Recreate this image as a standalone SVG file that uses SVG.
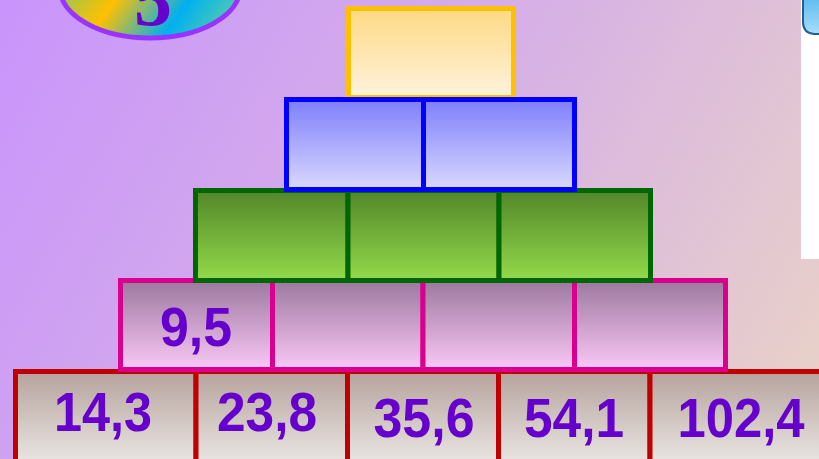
<svg xmlns="http://www.w3.org/2000/svg" width="819" height="459" viewBox="0 0 819 459">
<defs>
<linearGradient id="bg" gradientUnits="userSpaceOnUse" x1="0" y1="0" x2="819" y2="459">
<stop offset="0" stop-color="#C994FC"/><stop offset="0.5" stop-color="#D6B0E6"/><stop offset="1" stop-color="#EAD4C6"/>
</linearGradient>
<linearGradient id="gy" x1="0" y1="0" x2="0" y2="1"><stop offset="0" stop-color="#FDD983"/><stop offset="1" stop-color="#FFF3DE"/></linearGradient>
<linearGradient id="gb" x1="0" y1="0" x2="0" y2="1"><stop offset="0" stop-color="#7E7EFB"/><stop offset="1" stop-color="#D9D9FF"/></linearGradient>
<linearGradient id="gg" x1="0" y1="0" x2="0" y2="1"><stop offset="0" stop-color="#52862A"/><stop offset="1" stop-color="#93DA4A"/></linearGradient>
<linearGradient id="gp" x1="0" y1="0" x2="0" y2="1"><stop offset="0" stop-color="#9C789E"/><stop offset="1" stop-color="#FAC8F6"/></linearGradient>
<linearGradient id="gr" x1="0" y1="0" x2="0" y2="1"><stop offset="0" stop-color="#B6A29C"/><stop offset="0.85" stop-color="#E6E1DE"/><stop offset="1" stop-color="#ECE9E7"/></linearGradient>
<linearGradient id="ge" gradientUnits="userSpaceOnUse" x1="80" y1="-40" x2="220" y2="60">
<stop offset="0" stop-color="#8CC85A"/><stop offset="0.3" stop-color="#FFC000"/><stop offset="0.65" stop-color="#00B0F0"/><stop offset="1" stop-color="#6CD49A"/>
</linearGradient>
<linearGradient id="gc" x1="0" y1="0" x2="0" y2="1"><stop offset="0" stop-color="#5DBDF0"/><stop offset="1" stop-color="#A8DDF8"/></linearGradient>
</defs>
<style>
.c{stroke-width:5}
.y{fill:url(#gy);stroke:#FFC000}
.b{fill:url(#gb);stroke:#0000FF}
.g{fill:url(#gg);stroke:#006600}
.p{fill:url(#gp);stroke:#D9008F}
.r{fill:url(#gr);stroke:#C00000}
.t{font-family:"Liberation Sans",Arial,sans-serif;font-weight:bold;font-size:55px;fill:#6600CC;text-anchor:middle}
</style>
<rect x="0" y="0" width="819" height="459" fill="url(#bg)"/>
<g id="badge">
<ellipse cx="150" cy="-12" rx="90" ry="50" fill="url(#ge)" stroke="#9933FF" stroke-width="5"/>
<text x="153" y="25" font-family="Liberation Serif,serif" font-weight="bold" font-size="76" fill="#6600CC" text-anchor="middle">5</text>
</g>
<g id="panel">
<rect x="801" y="0" width="18" height="259" fill="#FFFFFF"/>
<path d="M803,-2 L803,22 Q803,33 814,34 L821,34 L821,-2 Z" fill="url(#gc)" stroke="#1F5F91" stroke-width="2"/>
</g>
<g id="row5">
<g id="r1"><rect class="c r" x="15.5" y="371.5" width="180.5" height="100"/><text class="t" x="103" y="431" textLength="98" lengthAdjust="spacingAndGlyphs">14,3</text></g>
<g id="r2"><rect class="c r" x="196" y="371.5" width="151.5" height="100"/><text class="t" x="267" y="431" textLength="100" lengthAdjust="spacingAndGlyphs">23,8</text></g>
<g id="r3"><rect class="c r" x="347.5" y="371.5" width="151" height="100"/><text class="t" x="424" y="437" textLength="101" lengthAdjust="spacingAndGlyphs">35,6</text></g>
<g id="r4"><rect class="c r" x="498.5" y="371.5" width="151.5" height="100"/><text class="t" x="574" y="437" textLength="100" lengthAdjust="spacingAndGlyphs">54,1</text></g>
<g id="r5"><rect class="c r" x="650" y="371.5" width="180" height="100"/><text class="t" x="741" y="437" textLength="127" lengthAdjust="spacingAndGlyphs">102,4</text></g>
</g>
<g id="row4">
<g id="p1"><rect class="c p" x="120.5" y="280.5" width="152" height="89"/><text class="t" x="196" y="346" textLength="72" lengthAdjust="spacingAndGlyphs">9,5</text></g>
<g id="p2"><rect class="c p" x="272.5" y="280.5" width="150.5" height="89"/></g>
<g id="p3"><rect class="c p" x="423" y="280.5" width="151.5" height="89"/></g>
<g id="p4"><rect class="c p" x="574.5" y="280.5" width="151" height="89"/></g>
</g>
<g id="row3">
<g id="g1"><rect class="c g" x="195.5" y="190.5" width="152.5" height="90"/></g>
<g id="g2"><rect class="c g" x="348" y="190.5" width="151" height="90"/></g>
<g id="g3"><rect class="c g" x="499" y="190.5" width="151.5" height="90"/></g>
</g>
<g id="row1">
<g id="y1"><rect class="c y" x="348.5" y="8.5" width="165" height="89"/></g>
</g>
<g id="row2">
<g id="b1"><rect class="c b" x="286.5" y="99.5" width="137" height="90"/></g>
<g id="b2"><rect class="c b" x="423.5" y="99.5" width="151" height="90"/></g>
</g>
<g id="connectors"/>
</svg>
